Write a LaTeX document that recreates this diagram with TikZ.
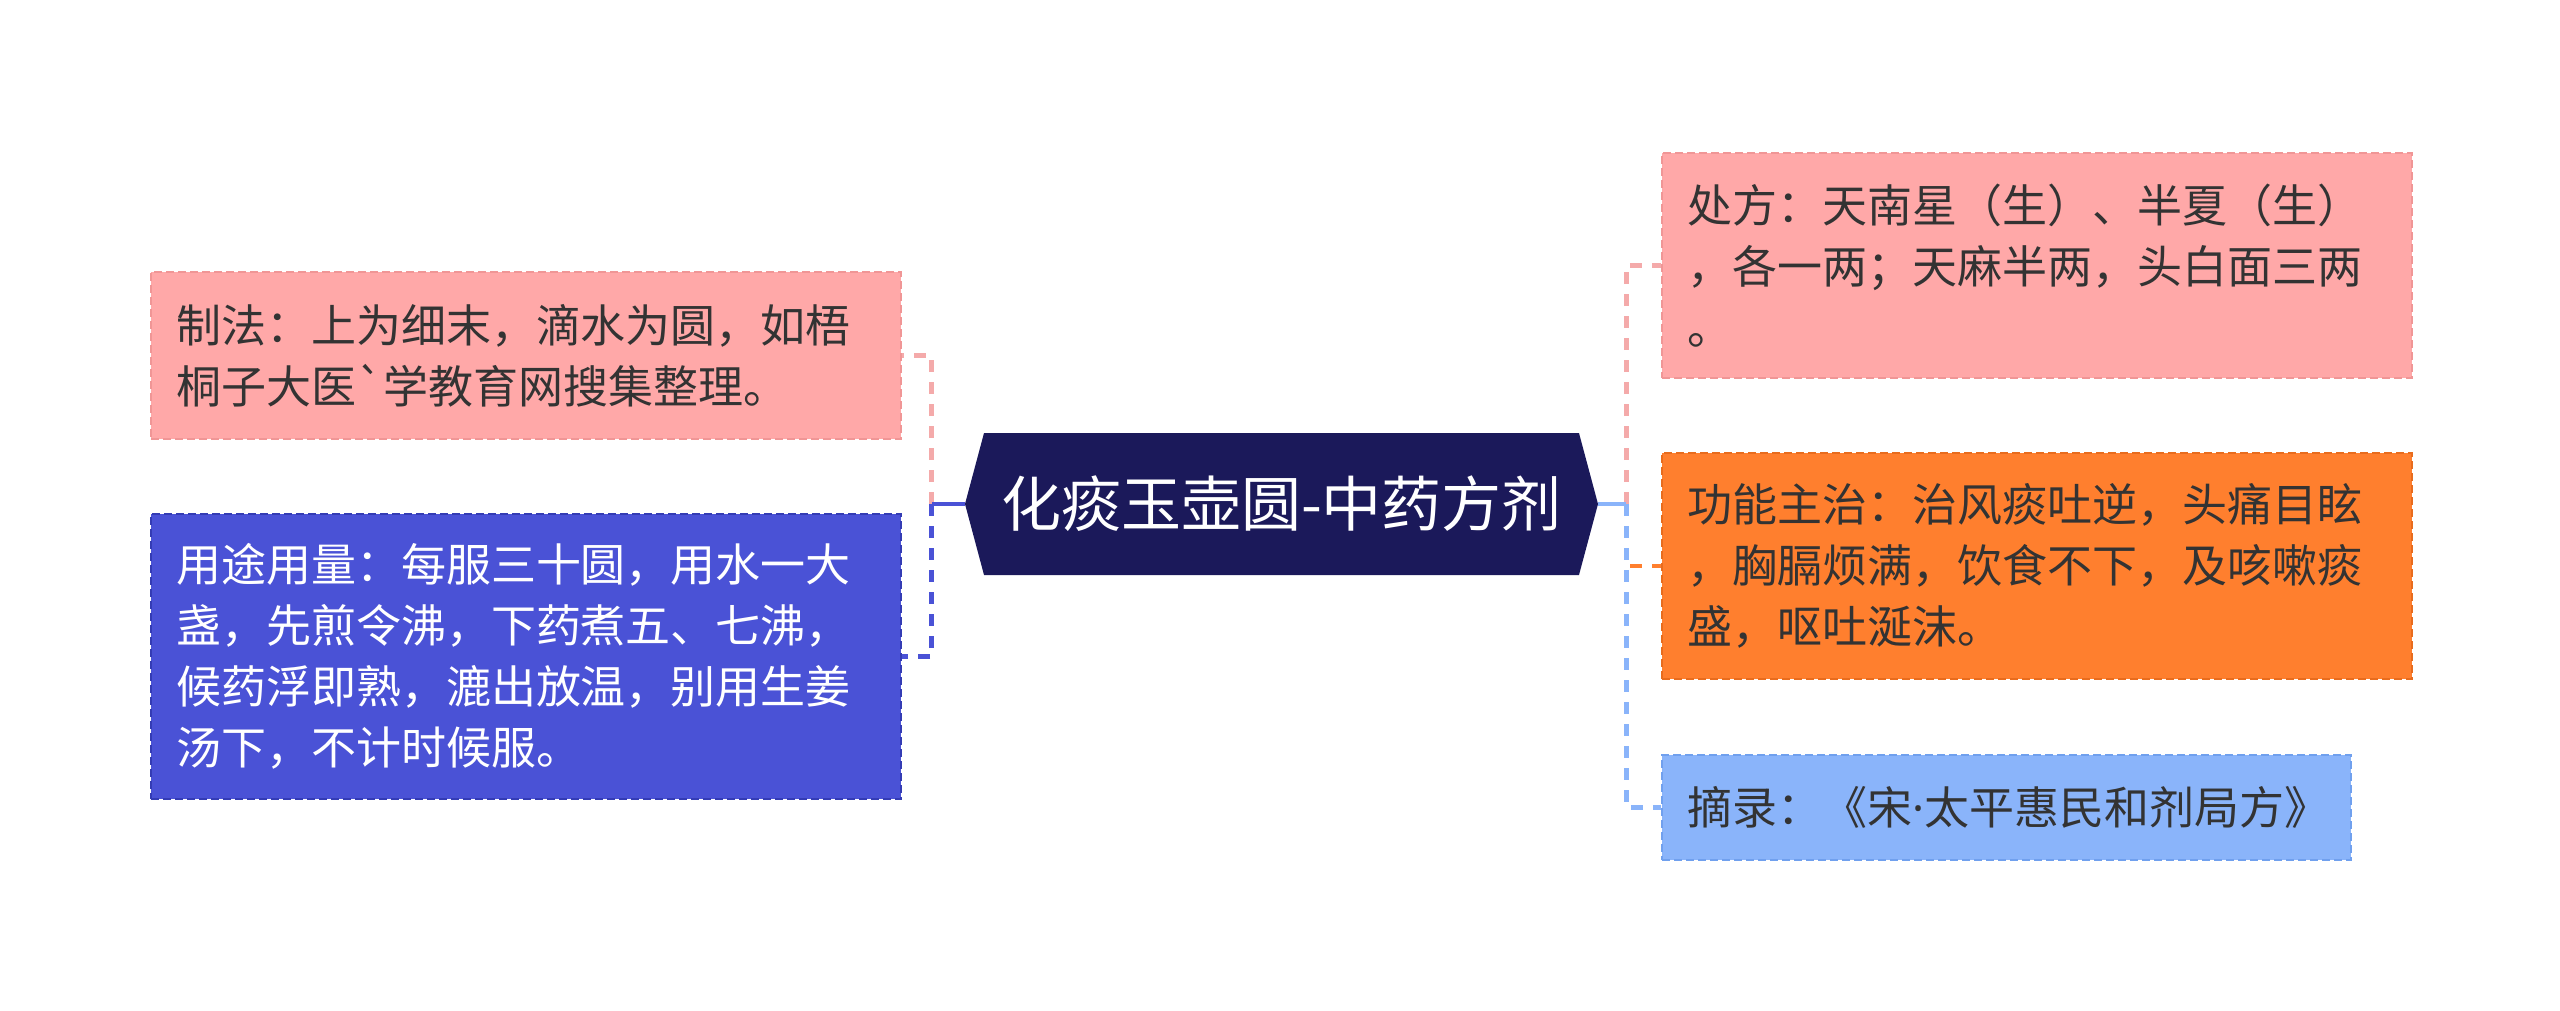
\documentclass[tikz,border=0pt]{standalone}
\usepackage{fontspec}
\newfontfamily\cjk{Noto Sans CJK SC}
\newfontfamily\latin{Noto Sans}
\usetikzlibrary{shapes.symbols}
\definecolor{PinkClr}{RGB}{255,168,168}
\definecolor{PinkDk}{RGB}{240,150,150}
\definecolor{PinkLn}{RGB}{244,170,170}
\definecolor{BlueClr}{RGB}{74,82,214}
\definecolor{BlueDk}{RGB}{52,60,180}
\definecolor{NavyClr}{RGB}{27,25,90}
\definecolor{OrangeClr}{RGB}{255,127,46}
\definecolor{OrangeDk}{RGB}{232,108,30}
\definecolor{SkyClr}{RGB}{138,180,250}
\definecolor{SkyDk}{RGB}{112,160,238}
\definecolor{TextClr}{RGB}{51,51,51}

\tikzset{
  leaf/.style={anchor=north west,draw,line width=1pt,dash pattern=on 4pt off 2pt,
    inner xsep=12.5pt,inner ysep=0pt,text width=350pt,align=left,text=TextClr,
    font=\cjk\fontsize{22.5pt}{30.5pt}\selectfont},
  link/.style={line width=2.2pt,dash pattern=on 6pt off 5pt},
  stem/.style={line width=2.2pt},
}

\begin{document}
\begin{tikzpicture}[x=0.5pt,y=-0.5pt]
\useasboundingbox (0,0) rectangle (2560,1011);

\node[signal,signal to=west and east,signal pointer angle=150,fill=NavyClr,
  text=white,minimum height=71pt,minimum width=316.5pt,
  font=\cjk\fontsize{30pt}{36pt}\selectfont] (title) at (1281.5,504) {化痰玉壶圆-中药方剂};

\node[leaf,fill=PinkClr,draw=PinkDk,minimum height=83.5pt] (zhifa) at (150,271)
  {制法：上为细末，滴水为圆，如梧\\桐子大医`学教育网搜集整理。};
\node[leaf,fill=BlueClr,draw=BlueDk,text=white,minimum height=142.5pt] (yongtu) at (150,513)
  {用途用量：每服三十圆，用水一大\\盏，先煎令沸，下药煮五、七沸，\\候药浮即熟，漉出放温，别用生姜\\汤下，不计时候服。};

\node[leaf,fill=PinkClr,draw=PinkDk,minimum height=112.5pt] (chufang) at (1661,152)
  {处方：天南星（生）、半夏（生）\\，各一两；天麻半两，头白面三两\\。};
\node[leaf,fill=OrangeClr,draw=OrangeDk,minimum height=113pt] (gongneng) at (1661,452)
  {功能主治：治风痰吐逆，头痛目眩\\，胸膈烦满，饮食不下，及咳嗽痰\\盛，呕吐涎沫。};
\node[leaf,fill=SkyClr,draw=SkyDk,text width=319.5pt,minimum height=52.5pt] (zhailu) at (1661,754)
  {摘录：《宋{\latin ·}太平惠民和剂局方》};

\draw[link,PinkLn] (title.west) ++(-33,0) |- (zhifa.east);
\draw[link,BlueClr] (title.west) ++(-33,0) |- (yongtu.east);
\draw[stem,BlueClr] (title.west) -- ++(-33,0);

\draw[link,PinkLn] (title.east) ++(28,0) |- (chufang.west);
\draw[link,OrangeClr] (title.east) ++(28,0) |- (gongneng.west);
\draw[link,SkyClr] (title.east) ++(28,0) |- (zhailu.west);
\draw[stem,SkyClr] (title.east) -- ++(28,0);

\end{tikzpicture}
\end{document}
